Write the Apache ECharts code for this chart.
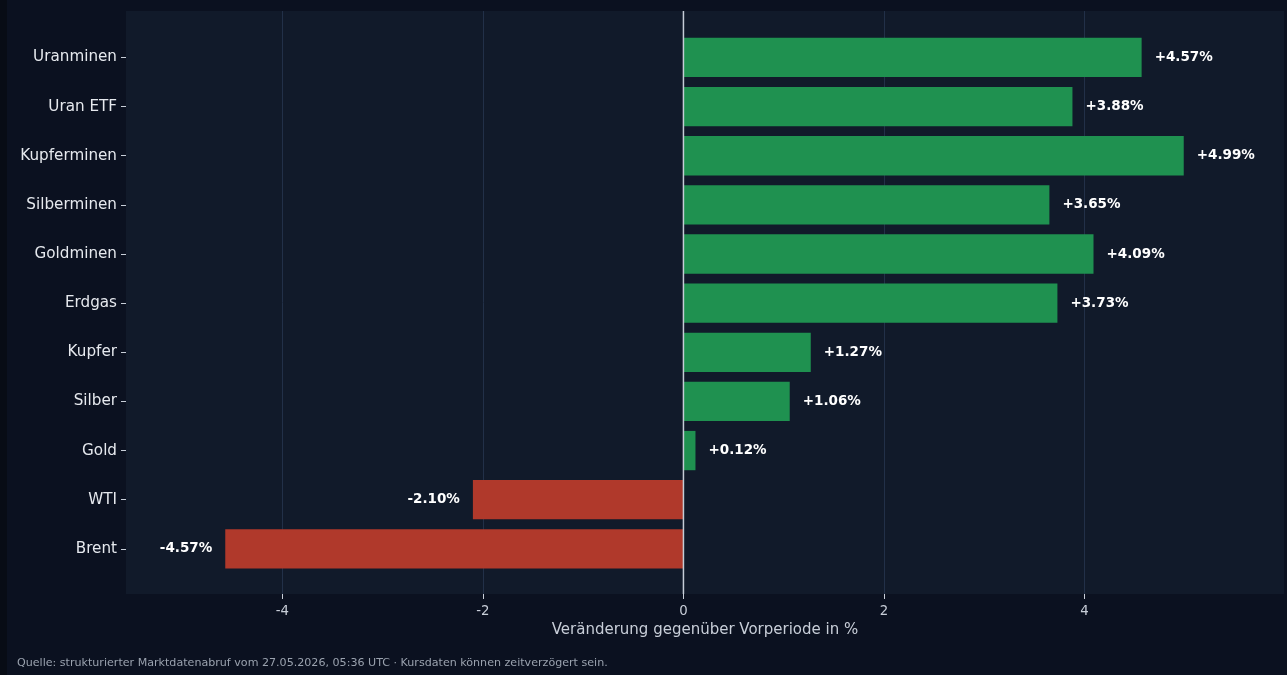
<!DOCTYPE html>
<html>
<head>
<meta charset="utf-8">
<script src="https://cdn.jsdelivr.net/npm/echarts@6/dist/echarts.min.js"></script>
<style>
html,body{margin:0;padding:0;background:#080c15;}
#c{width:1287px;height:675px;}
</style>
</head>
<body>
<div id="c"></div>
<script>
const categories = ['Uranminen','Uran ETF','Kupferminen','Silberminen','Goldminen','Erdgas','Kupfer','Silber','Gold','WTI','Brent'];
const changes = [4.57, 3.88, 4.99, 3.65, 4.09, 3.73, 1.27, 1.06, 0.12, -2.10, -4.57];
const xTicks = [-4, -2, 0, 2, 4];
const xMin = -5.56, xMax = 5.99;

const GREEN = '#1f9150', RED = '#b0392b';
const FONT = 'DejaVu Sans';

const chart = echarts.init(document.getElementById('c'), null, {renderer:'canvas'});

const barData = changes.map(v => ({
  value: v,
  itemStyle: {color: v >= 0 ? GREEN : RED},
  label: {position: v >= 0 ? 'right' : 'left'}
}));

chart.setOption({
  backgroundColor: '#080c15',
  animation: false,
  graphic: [
    {type:'rect', left:7, top:0, shape:{width:1280, height:675}, style:{fill:'#0b1120'}, z:-10, silent:true},
    {type:'text', left:17, top:658, style:{text:'Quelle: strukturierter Marktdatenabruf vom 27.05.2026, 05:36 UTC · Kursdaten können zeitverzögert sein.', fill:'#9aa2ae', font:'11.1px "DejaVu Sans"'}}
  ],
  grid: [
    {left:126, right:3, top:11, bottom:81, show:true, backgroundColor:'#111a2a', borderWidth:0, containLabel:false},
    {left:126, right:3, top:32.9, bottom:101.6, containLabel:false}
  ],
  xAxis: [
    {
      gridIndex:0, type:'value', min:xMin, max:xMax,
      axisLine:{show:false, onZero:false},
      axisTick:{show:true, customValues:xTicks, length:5, lineStyle:{color:'#c8ced8', width:1}},
      axisLabel:{show:true, customValues:xTicks, margin:11, color:'#c8ced8', fontSize:13.3, fontFamily:FONT},
      splitLine:{show:true, lineStyle:{color:'#223048', width:1}},
      name:'Veränderung gegenüber Vorperiode in %', nameLocation:'middle', nameGap:29,
      nameTextStyle:{color:'#c8ced8', fontSize:15, fontFamily:FONT}
    },
    {gridIndex:1, type:'value', min:xMin, max:xMax, show:false, axisLine:{onZero:false}, splitLine:{show:false}}
  ],
  yAxis: [
    {gridIndex:0, type:'value', min:0, max:1, show:false, axisLine:{onZero:false}, splitLine:{show:false}},
    {
      gridIndex:1, type:'category', data:categories, inverse:true, position:'left',
      axisLine:{show:false, onZero:false},
      axisTick:{show:true, alignWithLabel:true, length:5, lineStyle:{color:'#c8ced8'}},
      axisLabel:{color:'#e6e9ee', fontSize:15.2, fontFamily:FONT, margin:9},
      splitLine:{show:false}
    }
  ],
  series: [
    {
      type:'bar', xAxisIndex:1, yAxisIndex:1, data:barData, barWidth:'80%',
      label:{show:true, distance:13, color:'#ffffff', fontWeight:'bold', fontSize:13.5, fontFamily:FONT,
        formatter: p => (p.value >= 0 ? '+' : '') + p.value.toFixed(2) + '%'},
      z:2
    },
    {
      type:'line', xAxisIndex:0, yAxisIndex:0, data:[[0,0],[0,1]], symbol:'none', silent:true,
      lineStyle:{color:'#c5ccd6', width:1.5}, z:5
    }
  ]
});
</script>
</body>
</html>
